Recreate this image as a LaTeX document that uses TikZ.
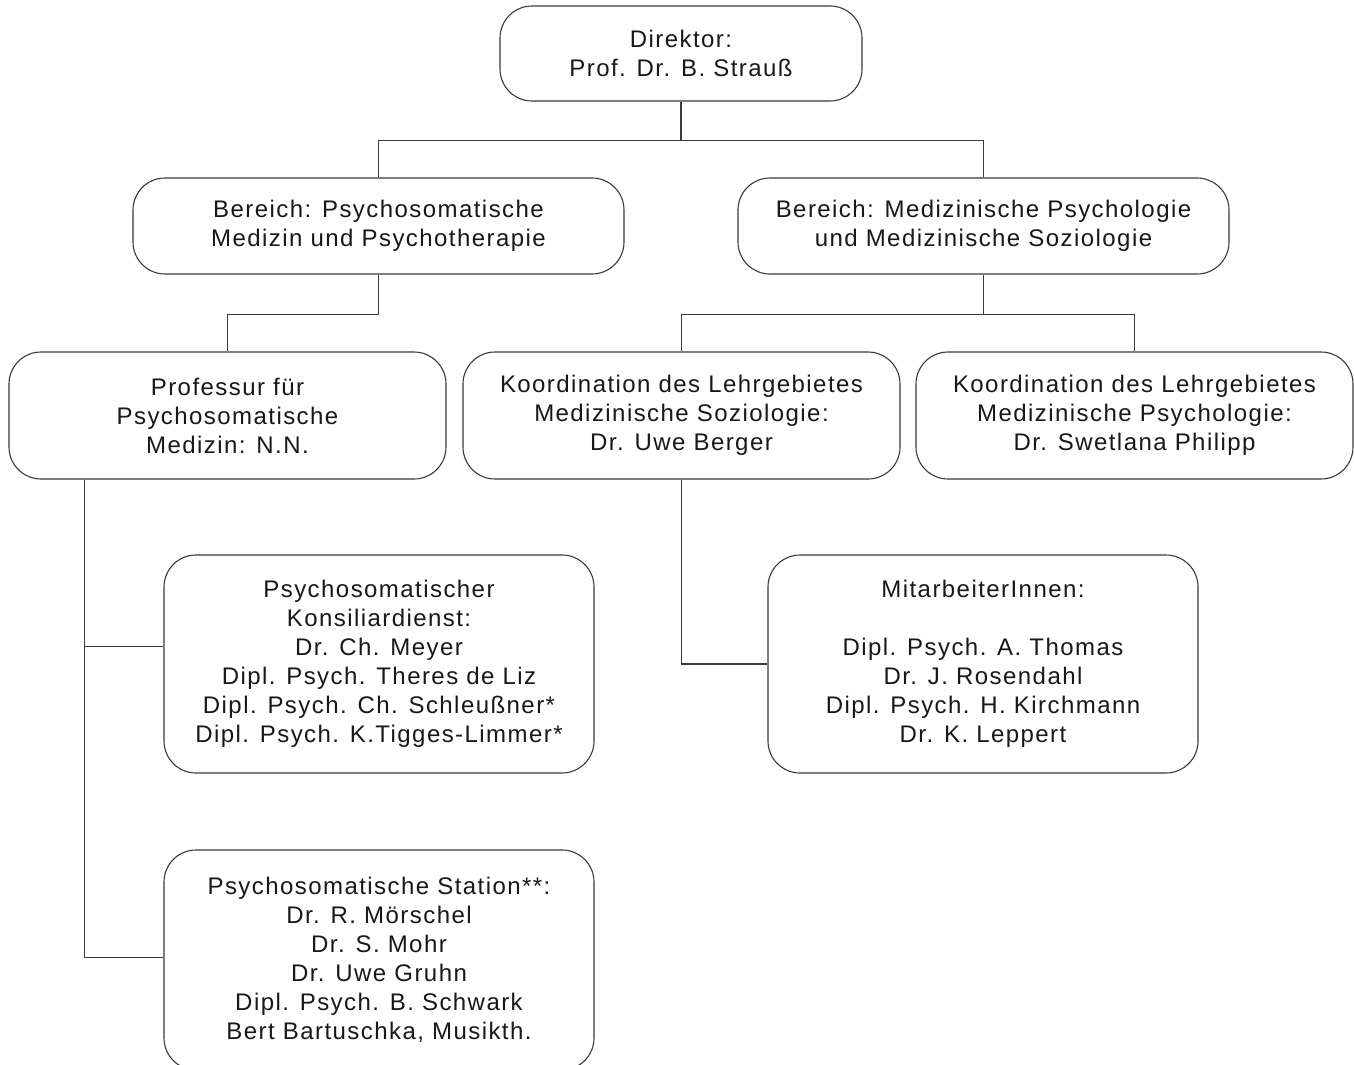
\documentclass[tikz,border=0pt]{standalone}
\usepackage{fontspec}
\setmainfont[LetterSpace=6]{Liberation Sans}
\usetikzlibrary{calc}
\definecolor{linec}{HTML}{3A3A3A}
\definecolor{textc}{HTML}{181818}
\begin{document}
\begin{tikzpicture}[x=1pt,y=-1pt,
  orgbox/.style={draw=linec, line width=1.1pt, rounded corners=32pt, align=center,
    text=textc, font=\fontsize{24}{29}\selectfont, inner sep=0pt},
  conn/.style={draw=linec, line width=1.1pt}]
\useasboundingbox (0,0) rectangle (1354,1065);
\fill[white] (0,0) rectangle (1354,1065);

\node[orgbox, minimum width=362pt, minimum height=95pt] (dir) at (681,53.5)
  {Direktor:\\Prof. Dr. B. Strauß};
\node[orgbox, minimum width=491pt, minimum height=96pt] (bl) at (378.5,226)
  {Bereich: Psychosomatische\\Medizin und Psychotherapie};
\node[orgbox, minimum width=491pt, minimum height=96pt] (br) at (983.5,226)
  {Bereich: Medizinische Psychologie\\und Medizinische Soziologie};
\node[orgbox, minimum width=437pt, minimum height=127pt] (prof) at (227.5,415.5)
  {Professur für\\Psychosomatische\\Medizin: N.N.};
\node[orgbox, minimum width=437pt, minimum height=127pt] (soz) at (681.5,415.5)
  {Koordination des Lehrgebietes\\Medizinische Soziologie:\\Dr. Uwe Berger};
\node[orgbox, minimum width=437pt, minimum height=127pt] (psy) at (1134.5,415.5)
  {Koordination des Lehrgebietes\\Medizinische Psychologie:\\Dr. Swetlana Philipp};
\node[orgbox, minimum width=430pt, minimum height=218pt] (kons) at (379,664)
  {Psychosomatischer\\Konsiliardienst:\\Dr. Ch. Meyer\\Dipl. Psych. Theres de Liz\\Dipl. Psych. Ch. Schleußner*\\Dipl. Psych. K.Tigges-Limmer*};
\node[orgbox, minimum width=430pt, minimum height=218pt] (mit) at (983,664)
  {MitarbeiterInnen:\\[29pt]Dipl. Psych. A. Thomas\\Dr. J. Rosendahl\\Dipl. Psych. H. Kirchmann\\Dr. K. Leppert};
\node[orgbox, minimum width=430pt, minimum height=220pt] (stat) at (379,960)
  {Psychosomatische Station**:\\Dr. R. Mörschel\\Dr. S. Mohr\\Dr. Uwe Gruhn\\Dipl. Psych. B. Schwark\\Bert Bartuschka, Musikth.};

% connectors
\draw[conn] (dir.south) -- ++(0,39) coordinate (j1);
\draw[conn] (bl.north) |- (j1) -| (br.north);
\draw[conn] (bl.south) -- ++(0,40) -| (prof.north);
\draw[conn] (br.south) -- ++(0,40) coordinate (j3);
\draw[conn] (soz.north) |- (j3) -| (psy.north);
\coordinate (p0) at ($(prof.south west)+(76,0)$);
\coordinate (kj) at ($(kons.north west)!0.42!(kons.south west)$);
\draw[conn] (p0) |- ($(stat.north west)!0.49!(stat.south west)$);
\draw[conn] (p0 |- kj) -- (kj);
\draw[conn] (soz.south) |- (mit.west);
\end{tikzpicture}
\end{document}
